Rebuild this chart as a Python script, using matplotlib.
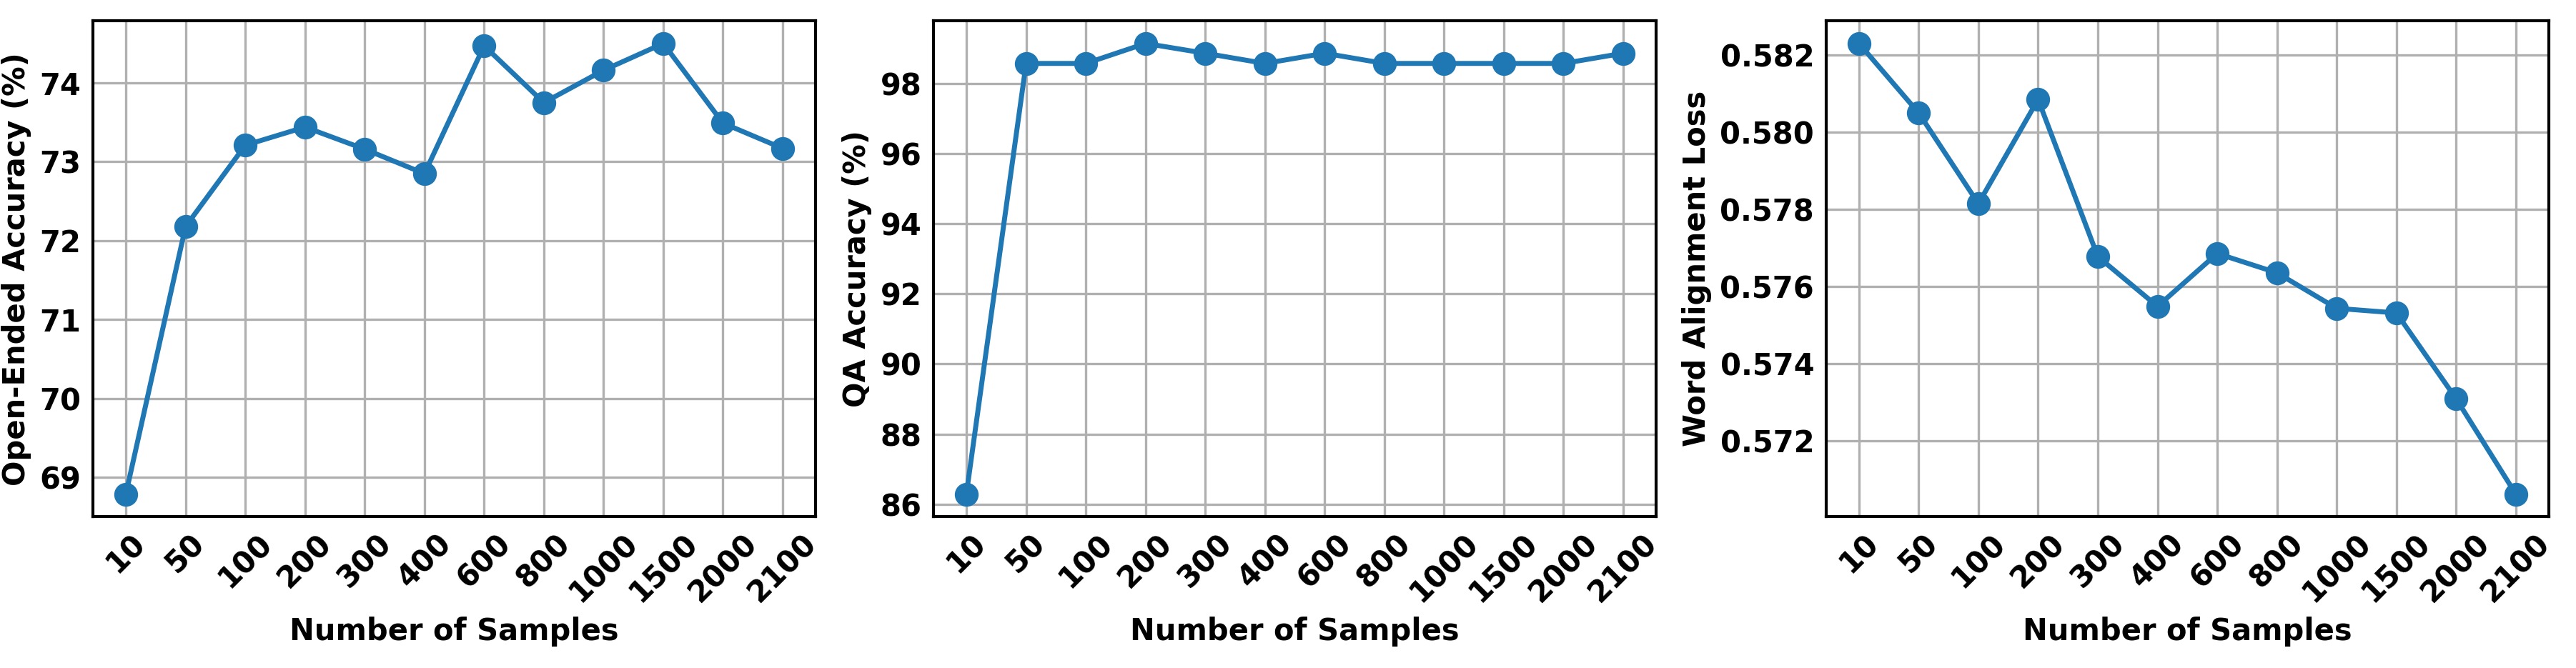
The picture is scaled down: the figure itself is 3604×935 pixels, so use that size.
import numpy as np
import matplotlib.pyplot as plt

# Número de muestras (eje x categórico)
muestras = ["10", "50", "100", "200", "300", "400", "600", "800",
            "1000", "1500", "2000", "2100"]

open_ended = [68.79, 72.18, 73.21, 73.44, 73.16, 72.85, 74.47, 73.75,
              74.16, 74.50, 73.49, 73.17]
qa_acc = [86.29, 98.57, 98.57, 99.14, 98.86, 98.57, 98.86, 98.57,
          98.57, 98.57, 98.57, 98.86]
word_loss = [0.5823, 0.5805, 0.57815, 0.58085, 0.57678, 0.57549, 0.57686,
             0.57636, 0.57544, 0.57532, 0.57310, 0.57063]

etiquetas_y = ["Open-Ended Accuracy (%)", "QA Accuracy (%)", "Word Alignment Loss"]
series = [open_ended, qa_acc, word_loss]

plt.rcParams["font.family"] = "DejaVu Sans"
plt.rcParams["font.weight"] = "bold"
plt.rcParams["font.size"] = 15

fig = plt.figure(figsize=(18.025, 4.675), dpi=200)
posiciones = [0.0361, 0.3623, 0.7087]

x = np.arange(len(muestras))
for izq, valores, etiqueta in zip(posiciones, series, etiquetas_y):
    ax = fig.add_axes([izq, 0.2267, 0.2804, 0.742])
    ax.plot(x, valores, marker="o", color="#1f77b4", linewidth=2.5, markersize=11)
    ax.set_xticks(x)
    ax.set_xticklabels(muestras, rotation=45, fontweight="bold")
    for lbl in ax.get_yticklabels():
        lbl.set_fontweight("bold")
    ax.set_xlabel("Number of Samples", fontweight="bold", fontsize=15)
    ax.set_ylabel(etiqueta, fontweight="bold", fontsize=15)
    ax.grid(True, color="#b0b0b0", linewidth=1.2)
    ax.tick_params(length=0, pad=6, labelsize=15)
    for s in ax.spines.values():
        s.set_linewidth(1.5)
        s.set_color("black")

fig.savefig("out.png", dpi=200)
